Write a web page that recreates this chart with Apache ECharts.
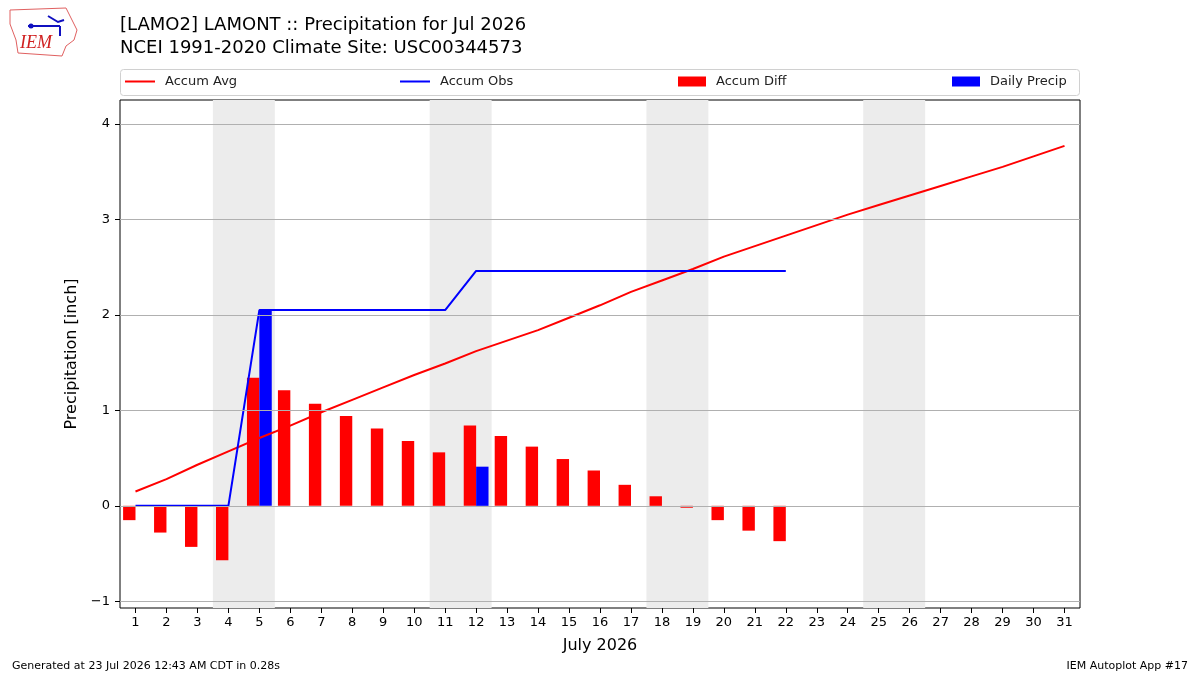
<!DOCTYPE html>
<html>
<head>
<meta charset="utf-8">
<script src="https://cdn.jsdelivr.net/npm/echarts@6/dist/echarts.min.js"></script>
<style>
  html, body { margin: 0; padding: 0; background: #fff; }
  #chart { width: 1200px; height: 675px; }
</style>
</head>
<body>
<div id="chart"></div>
<script>
// days of July 2026
var days = [];
for (var d = 1; d <= 31; d++) days.push(d);

// accumulated climatology (inch), every day of the month
var accumAvg = [0.15, 0.28, 0.43, 0.57, 0.71, 0.84, 0.98, 1.11, 1.24, 1.37, 1.49, 1.62, 1.73, 1.84, 1.97, 2.10,
  2.24, 2.36, 2.48, 2.61, 2.72, 2.83, 2.94, 3.05, 3.15, 3.25, 3.35, 3.45, 3.55, 3.66, 3.77];
// accumulated observed, through the 22nd
var accumObs = [0, 0, 0, 0, 2.05, 2.05, 2.05, 2.05, 2.05, 2.05, 2.05, 2.46, 2.46, 2.46, 2.46, 2.46,
  2.46, 2.46, 2.46, 2.46, 2.46, 2.46];
// obs - avg
var accumDiff = [-0.15, -0.28, -0.43, -0.57, 1.34, 1.21, 1.07, 0.94, 0.81, 0.68, 0.56, 0.84, 0.73, 0.62, 0.49, 0.37,
  0.22, 0.10, -0.02, -0.15, -0.26, -0.37];
// daily rain, only days with rain
var precipDays = [5, 12];
var precipVals = [2.05, 0.41];
// weekends (sat, sun)
var weekends = [[4, 5], [11, 12], [18, 19], [25, 26]];
var yTicks = [-1, 0, 1, 2, 3, 4];

var font = "DejaVu Sans";
var chart = echarts.init(document.getElementById("chart"));

var avgData = days.map(function (d, i) { return [d, accumAvg[i]]; });
var obsData = accumObs.map(function (v, i) { return [days[i], v]; });
var diffData = accumDiff.map(function (v, i) { return [days[i] - 0.2, v]; });
var precipData = precipVals.map(function (v, i) { return [precipDays[i] + 0.2, v]; });

function legendBox(left, name, icon) {
  return {
    left: left, top: 75, padding: 0, data: [{ name: name, icon: icon }],
    itemWidth: icon === "rect" ? 28 : 30, itemHeight: icon === "rect" ? 10 : 14,
    itemGap: 0, textStyle: { fontFamily: font, fontSize: 13, color: "#222", padding: [0, 0, 0, 5] },
    selectedMode: false
  };
}

var option = {
  animation: false,
  backgroundColor: "#fff",
  title: [
    {
      text: "[LAMO2] LAMONT :: Precipitation for Jul 2026\nNCEI 1991-2020 Climate Site: USC00344573",
      left: 120, top: 14, padding: 0,
      textStyle: { fontFamily: font, fontSize: 18, fontWeight: "normal", color: "#000", lineHeight: 23 }
    },
    {
      text: "Generated at 23 Jul 2026 12:43 AM CDT in 0.28s",
      left: 12, top: 661, padding: 0,
      textStyle: { fontFamily: font, fontSize: 11, fontWeight: "normal", color: "#000" }
    },
    {
      text: "IEM Autoplot App #17",
      right: 12, top: 661, padding: 0,
      textStyle: { fontFamily: font, fontSize: 11, fontWeight: "normal", color: "#000" }
    }
  ],
  legend: [
    legendBox(125, "Accum Avg", "path://M0,6 L30,6 L30,8 L0,8 Z"),
    legendBox(400, "Accum Obs", "path://M0,6 L30,6 L30,8 L0,8 Z"),
    legendBox(678, "Accum Diff", "rect"),
    legendBox(952, "Daily Precip", "rect")
  ],
  graphic: [
    {
      type: "rect", shape: { x: 120.5, y: 69.5, width: 959, height: 26, r: 3 },
      style: { fill: "#fff", stroke: "#d0d0d0", lineWidth: 1 }, z: -1
    },
    {
      type: "polyline", z: 10,
      shape: { points: [[10, 10], [66, 8], [70, 16], [77, 30], [74, 40], [66, 46], [62, 56], [18, 53], [16, 40], [10, 24], [10, 10]] },
      style: { stroke: "#e06060", lineWidth: 1, fill: "none" }
    },
    {
      type: "text", left: 20, top: 34, z: 10,
      style: { text: "IEM", fill: "#d02020", font: "italic 18px 'Liberation Serif'" }
    },
    {
      type: "polyline", z: 10,
      shape: { points: [[28, 26], [60, 26]] },
      style: { stroke: "#1010c0", lineWidth: 2 }
    },
    {
      type: "polyline", z: 10,
      shape: { points: [[48, 16], [58, 22], [64, 20]] },
      style: { stroke: "#1010c0", lineWidth: 2, fill: "none" }
    },
    {
      type: "polyline", z: 10,
      shape: { points: [[60, 26], [60, 36]] },
      style: { stroke: "#1010c0", lineWidth: 2 }
    },
    {
      type: "circle", z: 10, shape: { cx: 31, cy: 26, r: 2.5 }, style: { fill: "#1010c0" }
    }
  ],
  grid: {
    left: 120, right: 120, top: 100, bottom: 67,
    show: true, borderColor: "#000", borderWidth: 1, backgroundColor: "transparent"
  },
  xAxis: {
    type: "value", min: 0.5, max: 31.5,
    name: "July 2026", nameLocation: "middle", nameGap: 30,
    nameTextStyle: { fontFamily: font, fontSize: 16, color: "#000" },
    axisLine: { show: false, onZero: false },
    axisTick: { show: true, length: 5, customValues: days, lineStyle: { color: "#000" } },
    axisLabel: { customValues: days, fontFamily: font, fontSize: 13, color: "#000", margin: 8 },
    splitLine: { show: false }
  },
  yAxis: {
    type: "value", min: -1.07, max: 4.25,
    name: "Precipitation [inch]", nameLocation: "middle", nameGap: 36,
    nameTextStyle: { fontFamily: font, fontSize: 16, color: "#000" },
    axisLine: { show: false, onZero: false },
    axisTick: { show: true, length: 5, customValues: yTicks, lineStyle: { color: "#000" } },
    axisLabel: {
      customValues: yTicks, fontFamily: font, fontSize: 13, color: "#000", margin: 10,
      formatter: function (v) { return v < 0 ? "\u2212" + (-v) : String(v); }
    },
    splitLine: { show: false }
  },
  series: [
    {
      name: "weekends", type: "line", data: [], z: 0, silent: true,
      markArea: {
        silent: true,
        itemStyle: { color: "#ececec" },
        data: weekends.map(function (w) { return [{ xAxis: w[0] - 0.5 }, { xAxis: w[1] + 0.5 }]; })
      }
    },
    {
      name: "grid", type: "line", data: [], z: 1, silent: true,
      markLine: {
        silent: true, symbol: "none", label: { show: false },
        lineStyle: { color: "#b0b0b0", width: 1, type: "solid" },
        data: yTicks.map(function (t) { return { yAxis: t }; })
      }
    },
    {
      name: "Accum Diff", type: "bar", data: diffData, z: 2,
      barWidth: 12.4, barGap: "-100%", itemStyle: { color: "#ff0000" }
    },
    {
      name: "Daily Precip", type: "bar", data: precipData, z: 2,
      barWidth: 12.4, barGap: "-100%", itemStyle: { color: "#0000ff" }
    },
    {
      name: "Accum Avg", type: "line", data: avgData, z: 3,
      showSymbol: false, lineStyle: { color: "#ff0000", width: 2 }, itemStyle: { color: "#ff0000" }
    },
    {
      name: "Accum Obs", type: "line", data: obsData, z: 3,
      showSymbol: false, lineStyle: { color: "#0000ff", width: 2 }, itemStyle: { color: "#0000ff" }
    }
  ]
};

chart.setOption(option);
</script>
</body>
</html>
